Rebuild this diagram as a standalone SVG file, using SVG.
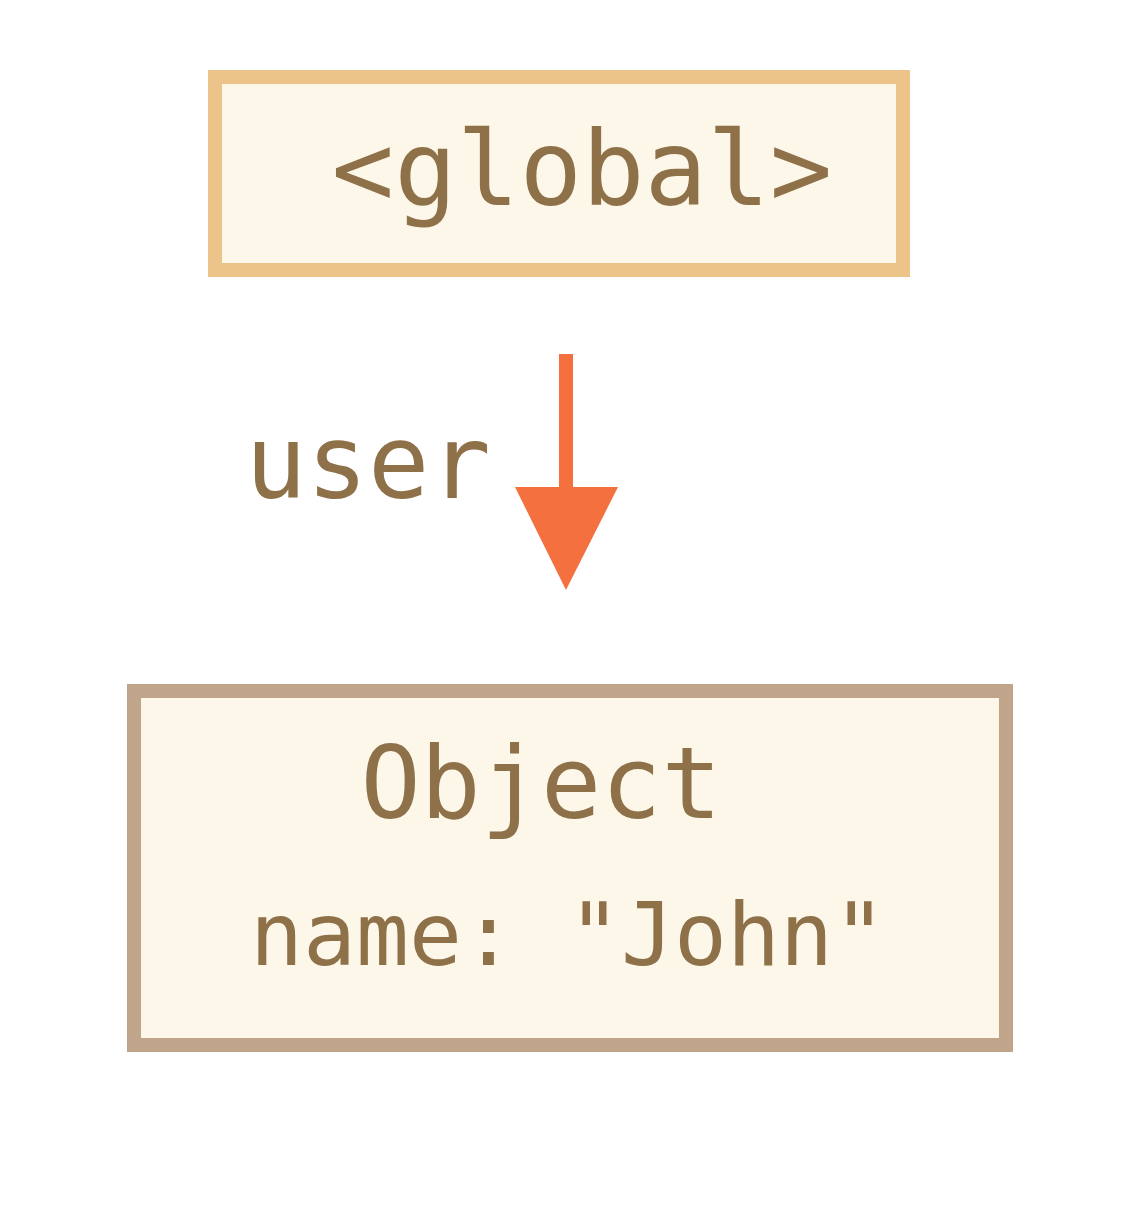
<svg xmlns="http://www.w3.org/2000/svg" width="1125" height="1209" viewBox="0 0 1125 1209">
<style>
.t{font-family:"DejaVu Sans Mono","Liberation Mono",monospace;fill:#8e7148;text-anchor:middle}
.box{fill:#fdf7ea;stroke-width:14}
</style>
<rect width="1125" height="1209" fill="#ffffff"/>
<g id="global">
<rect class="box" x="215" y="77" width="688" height="193" stroke="#ecc48a"/>
<text class="t" x="582" y="205" font-size="104">&lt;global&gt;</text>
</g>
<g id="connectors">
<line x1="566" y1="354" x2="566" y2="492" stroke="#f4703f" stroke-width="14"/>
<polygon points="515,487 618,487 566,590" fill="#f4703f"/>
<text class="t" x="368" y="498" font-size="102">user</text>
</g>
<g id="object">
<rect class="box" x="134" y="691" width="872" height="354" stroke="#c1a58a"/>
<text class="t" x="541" y="818" font-size="100">Object</text>
<text class="t" x="568" y="965" font-size="88">name: "John"</text>
</g>
</svg>
